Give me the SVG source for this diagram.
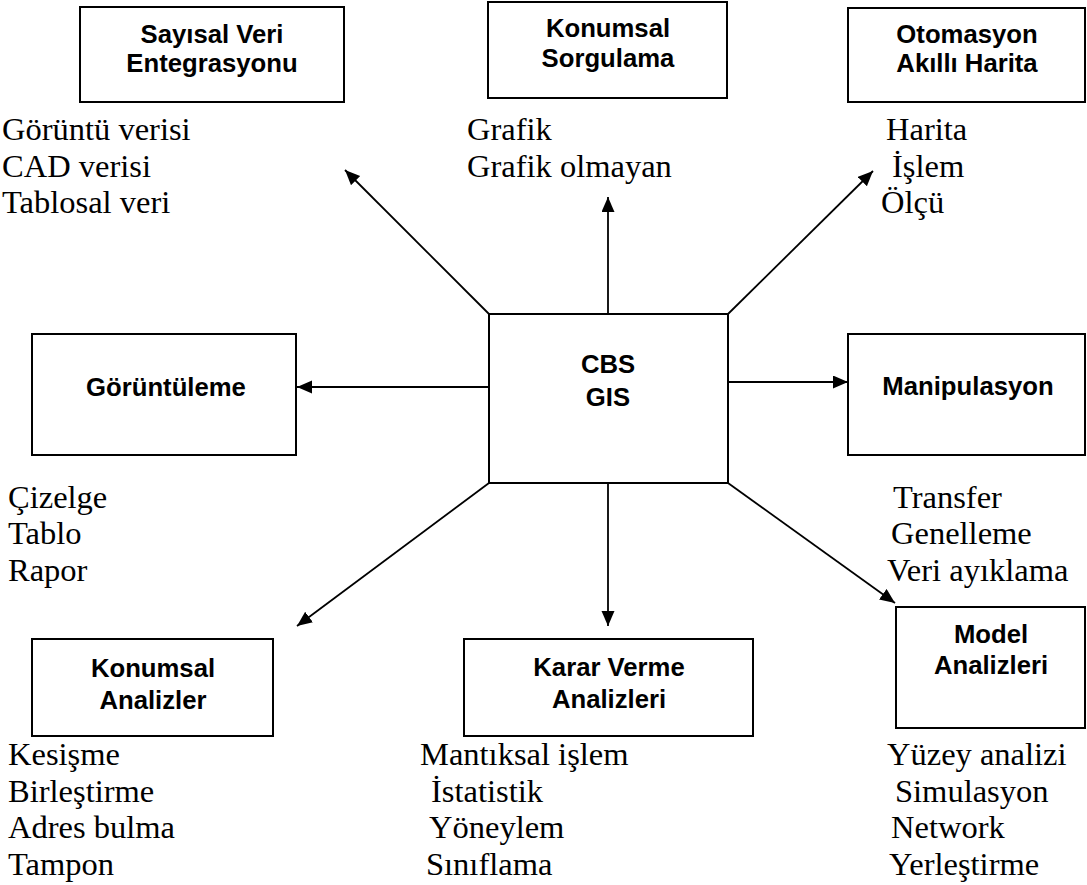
<svg xmlns="http://www.w3.org/2000/svg" width="1087" height="885" viewBox="0 0 1087 885">
  <style>
    .box { fill: #fff; stroke: #000; stroke-width: 2; }
    .title { font-family: "Liberation Sans", Arial, sans-serif; font-weight: bold; font-size: 25.7px; fill: #000; text-anchor: middle; }
    .item { font-family: "Liberation Serif", "Times New Roman", serif; font-size: 32.5px; fill: #000; }
    .link { stroke: #000; stroke-width: 1.8; fill: none; marker-end: url(#arrow); }
  </style>
  <defs>
    <marker id="arrow" markerUnits="userSpaceOnUse" markerWidth="16" markerHeight="14" refX="15" refY="6.5" orient="auto">
      <path d="M0,0 L15,6.5 L0,13 Z" fill="#000"/>
    </marker>
  </defs>
  <rect width="1087" height="885" fill="#fff"/>

  <!-- connectors from the central node -->
  <g id="connectors">
    <line class="link" x1="489" y1="314" x2="345" y2="170"/>
    <line class="link" x1="608" y1="314" x2="608" y2="197"/>
    <line class="link" x1="728" y1="314" x2="873" y2="171"/>
    <line class="link" x1="489" y1="387" x2="297" y2="387"/>
    <line class="link" x1="728" y1="382" x2="848" y2="382"/>
    <line class="link" x1="489" y1="483" x2="297" y2="626"/>
    <line class="link" x1="608" y1="483" x2="608" y2="626"/>
    <line class="link" x1="728" y1="483" x2="895" y2="603"/>
  </g>

  <g id="cbs">
    <rect class="box" x="489" y="314" width="239" height="169"/>
    <text class="title" x="608" y="373">CBS</text>
    <text class="title" x="608" y="406">GIS</text>
  </g>

  <g id="sayisal-veri">
    <rect class="box" x="80" y="7" width="264" height="95"/>
    <text class="title" x="212" y="43">Sayısal Veri</text>
    <text class="title" x="212" y="72">Entegrasyonu</text>
    <text class="item" x="2" y="140">Görüntü verisi</text>
    <text class="item" x="2" y="177">CAD verisi</text>
    <text class="item" x="2" y="213">Tablosal veri</text>
  </g>

  <g id="konumsal-sorgulama">
    <rect class="box" x="488" y="2" width="239" height="96"/>
    <text class="title" x="608" y="37">Konumsal</text>
    <text class="title" x="608" y="67">Sorgulama</text>
    <text class="item" x="467" y="140">Grafik</text>
    <text class="item" x="467" y="177">Grafik olmayan</text>
  </g>

  <g id="otomasyon">
    <rect class="box" x="848" y="8" width="237" height="94"/>
    <text class="title" x="967" y="43">Otomasyon</text>
    <text class="title" x="967" y="72">Akıllı Harita</text>
    <text class="item" x="886" y="140">Harita</text>
    <text class="item" x="892" y="177">İşlem</text>
    <text class="item" x="881" y="213">Ölçü</text>
  </g>

  <g id="goruntuleme">
    <rect class="box" x="32" y="334" width="264" height="121"/>
    <text class="title" x="166" y="396">Görüntüleme</text>
    <text class="item" x="8" y="508">Çizelge</text>
    <text class="item" x="8" y="544">Tablo</text>
    <text class="item" x="8" y="581">Rapor</text>
  </g>

  <g id="manipulasyon">
    <rect class="box" x="848" y="334" width="237" height="121"/>
    <text class="title" x="968" y="395">Manipulasyon</text>
    <text class="item" x="893" y="508">Transfer</text>
    <text class="item" x="891" y="544">Genelleme</text>
    <text class="item" x="887" y="581">Veri ayıklama</text>
  </g>

  <g id="konumsal-analizler">
    <rect class="box" x="32" y="639" width="241" height="97"/>
    <text class="title" x="153" y="677">Konumsal</text>
    <text class="title" x="153" y="709">Analizler</text>
    <text class="item" x="8" y="765">Kesişme</text>
    <text class="item" x="8" y="802">Birleştirme</text>
    <text class="item" x="8" y="838">Adres bulma</text>
    <text class="item" x="8" y="875">Tampon</text>
  </g>

  <g id="karar-verme">
    <rect class="box" x="464" y="639" width="289" height="97"/>
    <text class="title" x="609" y="676">Karar Verme</text>
    <text class="title" x="609" y="708">Analizleri</text>
    <text class="item" x="420" y="765">Mantıksal işlem</text>
    <text class="item" x="431" y="802">İstatistik</text>
    <text class="item" x="429" y="838">Yöneylem</text>
    <text class="item" x="426" y="875">Sınıflama</text>
  </g>

  <g id="model-analizleri">
    <rect class="box" x="896" y="607" width="189" height="121"/>
    <text class="title" x="991" y="643">Model</text>
    <text class="title" x="991" y="674">Analizleri</text>
    <text class="item" x="887" y="765">Yüzey analizi</text>
    <text class="item" x="895" y="802">Simulasyon</text>
    <text class="item" x="891" y="838">Network</text>
    <text class="item" x="889" y="875">Yerleştirme</text>
  </g>
</svg>
